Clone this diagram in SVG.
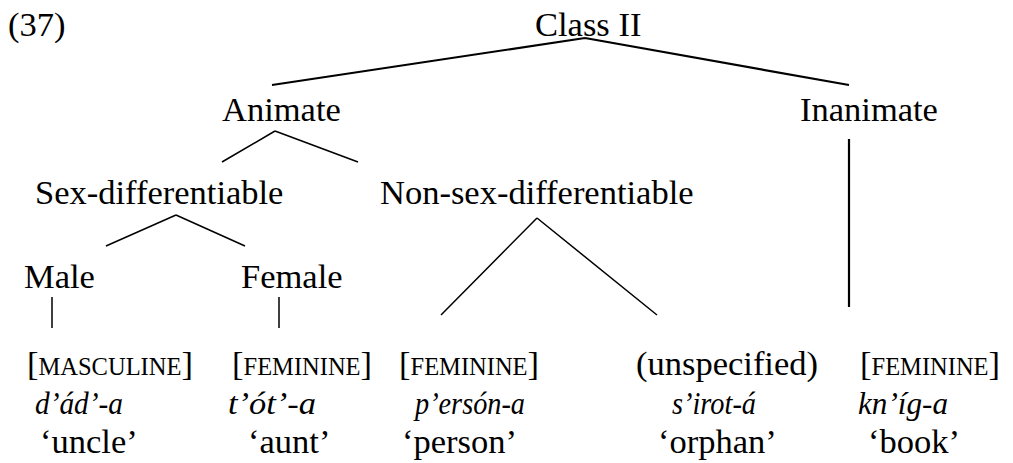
<svg xmlns="http://www.w3.org/2000/svg" width="1013" height="463" viewBox="0 0 1013 463">
<style>
text{font-family:"Liberation Serif","Times New Roman",serif;font-size:34.5px;fill:#000}
.it{font-style:italic;font-size:32px}
.sc{font-size:24.5px}
.ln{stroke:#000;stroke-width:1.5;fill:none}
.lt{stroke:#000;stroke-width:2.2;fill:none}
</style>
<rect width="1013" height="463" fill="#fff"/>
<text x="8" y="36">(37)</text>
<g id="connectors">
<path class="lt" d="M585,38 L272,85 M585,38 L849,85"/>
<path class="ln" d="M275,131 L222,162 M275,131 L358,162"/>
<path class="ln" d="M176,215 L106,246 M176,215 L245,246"/>
<path class="ln" d="M537,218 L441,315 M537,218 L657,315"/>
<path class="lt" d="M849,139 L849,307"/>
<path class="ln" d="M52,297 L52,328 M279,297 L279,328"/>
</g>
<g id="class2"><text x="535" y="36">Class II</text></g>
<g id="animate"><text x="222" y="121">Animate</text></g>
<g id="inanimate"><text x="800" y="121">Inanimate</text></g>
<g id="sexdiff"><text x="35" y="204">Sex-differentiable</text></g>
<g id="nonsexdiff"><text x="380" y="204">Non-sex-differentiable</text></g>
<g id="male"><text x="24" y="288">Male</text></g>
<g id="female"><text x="241" y="288">Female</text></g>
<g id="uncle">
<text x="27" y="375">[<tspan class="sc">MASCULINE</tspan>]</text>
<text class="it" x="35" y="414" textLength="88" lengthAdjust="spacingAndGlyphs">d’ád’-a</text>
<text x="40" y="453">‘uncle’</text>
</g>
<g id="aunt">
<text x="232" y="375">[<tspan class="sc">FEMININE</tspan>]</text>
<text class="it" x="228" y="414" textLength="88" lengthAdjust="spacingAndGlyphs">t’ót’-a</text>
<text x="248" y="453">‘aunt’</text>
</g>
<g id="person">
<text x="399" y="375">[<tspan class="sc">FEMININE</tspan>]</text>
<text class="it" x="415" y="414" textLength="110" lengthAdjust="spacingAndGlyphs">p’ersón-a</text>
<text x="402" y="453">‘person’</text>
</g>
<g id="orphan">
<text x="636" y="375">(unspecified)</text>
<text class="it" x="672" y="414" textLength="84" lengthAdjust="spacingAndGlyphs">s’irot-á</text>
<text x="658" y="453">‘orphan’</text>
</g>
<g id="book">
<text x="860" y="375">[<tspan class="sc">FEMININE</tspan>]</text>
<text class="it" x="858" y="414" textLength="90" lengthAdjust="spacingAndGlyphs">kn’íg-a</text>
<text x="868" y="453">‘book’</text>
</g>
</svg>
